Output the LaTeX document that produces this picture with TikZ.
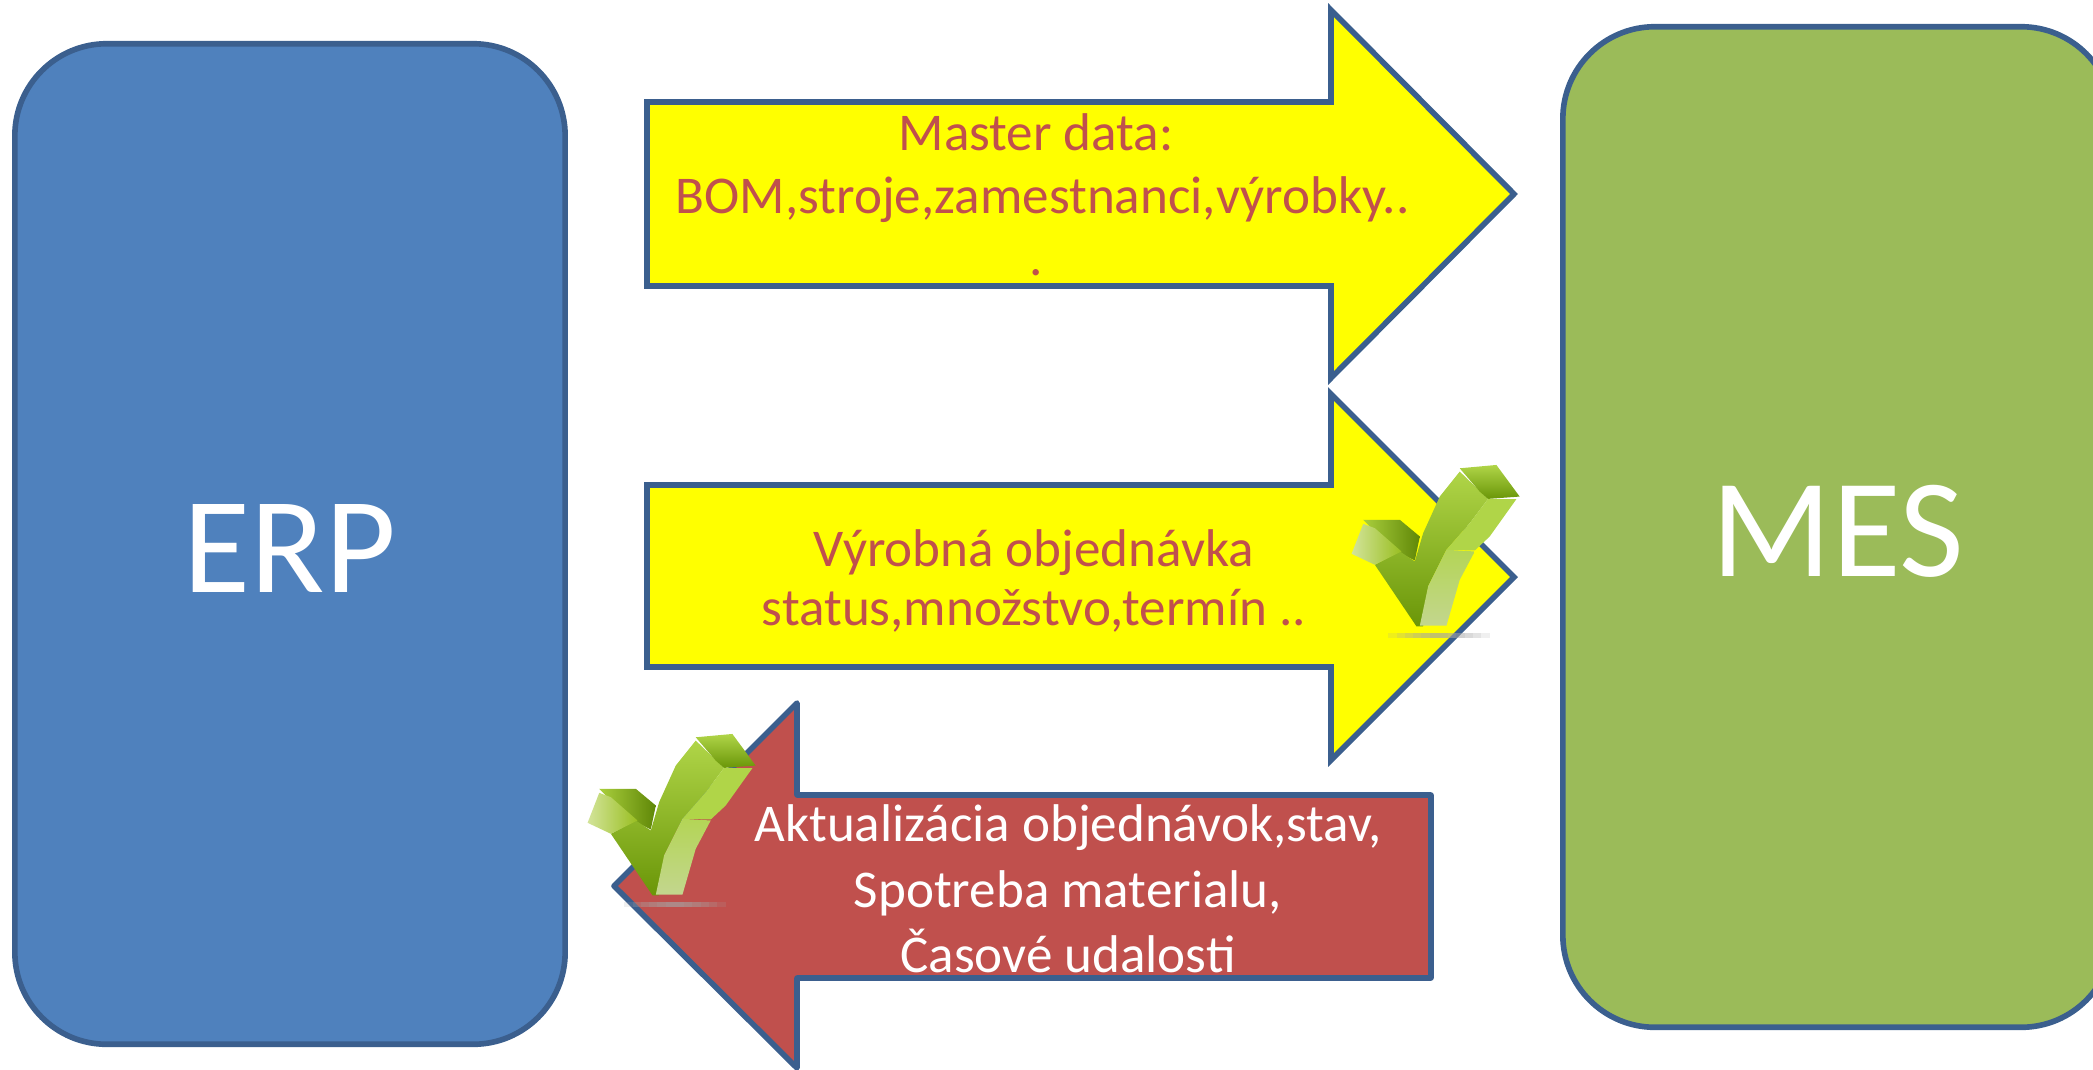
\documentclass[tikz,border=0pt]{standalone}
\usepackage{fontspec}
\setmainfont{Carlito}
\usepackage{tikz}
\usetikzlibrary{calc}
\usetikzlibrary{positioning}
\definecolor{frameblue}{HTML}{3B5F8E}
\definecolor{erpblue}{HTML}{4F81BD}
\definecolor{mesgreen}{HTML}{9BBB59}
\definecolor{backred}{HTML}{C0504D}
\definecolor{flowyellow}{HTML}{FFFF00}
\definecolor{tickdark}{HTML}{6A9608}
\definecolor{tickmid}{HTML}{8FB510}
\definecolor{ticklight}{HTML}{B0D548}
\definecolor{tickpale}{HTML}{D3E49A}
\definecolor{tickfaint}{HTML}{C3D68E}
\tikzstyle{system} = [draw=frameblue, line width=1.6pt, rounded corners=0.92cm,
    minimum width=5.5cm, text=white]
\tikzstyle{flow} = [draw=frameblue, line width=1.6pt]
\tikzstyle{flowtext} = [align=center, inner sep=0pt]
\tikzset{
  tick/.pic={
    \begin{scope}[x=0.003333cm, y=-0.003333cm]
      % shadow under the tick
      \foreach \inset in {0,25,...,125}
        \fill [gray!70, opacity=0.17] (265+\inset,610) rectangle (570-\inset,626);
      % back of the short arm
      \shade [left color=ticklight!80!tickmid, right color=tickdark!90!black]
        (190,270) -- (300,270) -- (360,320) -- (345,392) -- (280,360) -- cycle;
      % body
      \shade [top color=ticklight, middle color=tickmid, bottom color=tickdark]
        (225,405) -- (300,365) -- (345,395) -- (370,310) -- (420,200) -- (480,125) -- (565,207)
        -- (510,280) -- (440,360) -- (385,470) -- (370,590) -- (350,590) -- cycle;
      % short arm
      \shade [left color=tickpale, right color=tickmid!70!ticklight]
        (190,282) -- (225,295) -- (305,365) -- (225,405) -- (155,372) -- cycle;
      % head of the long arm
      \shade [top color=ticklight, bottom color=tickdark]
        (480,115) -- (590,105) -- (660,200) -- (565,207) -- (540,185) -- cycle;
      % light faces of the long arm
      \fill [ticklight]
        (565,207) -- (650,208) -- (570,320) -- (525,362) -- (440,360) -- (510,280) -- cycle;
      \shade [top color=ticklight!80!tickfaint, bottom color=tickfaint]
        (440,360) -- (525,365) -- (480,450) -- (440,588) -- (360,588) -- (385,470) -- (420,400) -- cycle;
    \end{scope}
  }
}
\begin{document}
\begin{tikzpicture}[x=0.01cm, y=-0.01cm]
    \useasboundingbox (0,0) rectangle (2093,1069);
    \node [system, fill=erpblue, minimum height=10cm, text height=0.96cm, font=\fontsize{39}{47}\selectfont] (erp) at (290,544) {ERP};
    \node [system, fill=mesgreen, minimum height=10cm, text height=0.99cm, font=\fontsize{40}{48}\selectfont] (mes) at (1838,527) {MES};

    \draw [flow, fill=flowyellow] (647,102) -- (1331,102) -- (1331,10) -- (1514,194)
      -- (1331,378) -- (1331,286) -- (647,286) -- cycle;
    \draw [flow, fill=flowyellow] (647,485) -- (1331,485) -- (1331,394) -- (1514,577)
      -- (1331,760) -- (1331,667) -- (647,667) -- cycle;
    \draw [flow, fill=backred, line join=round] (1431,795) -- (797,795) -- (797,703) -- (614,886)
      -- (797,1068) -- (797,978) -- (1431,978) -- cycle;

    \node [flowtext, text=backred, font=\fontsize{15.1}{17.8}\selectfont] (masterdata) at (1036,195)
      {Master data:\\\hspace*{0.134cm}BOM,stroje,zamestnanci,výrobky..\\.};
    \node [flowtext, text=backred, font=\fontsize{15.1}{17}\selectfont] (order) at (1034,581)
      {Výrobná objednávka\\status,množstvo,termín ..};
    \node [flowtext, text=white, font=\fontsize{15.1}{18.6}\selectfont] (feedback) at (1068,889)
      {Aktualizácia objednávok,stav,\\Spotreba materialu,\\Časové udalosti};

    \pic at (1300,430) {tick};
    \pic at (536,699) {tick};
\end{tikzpicture}
\end{document}
